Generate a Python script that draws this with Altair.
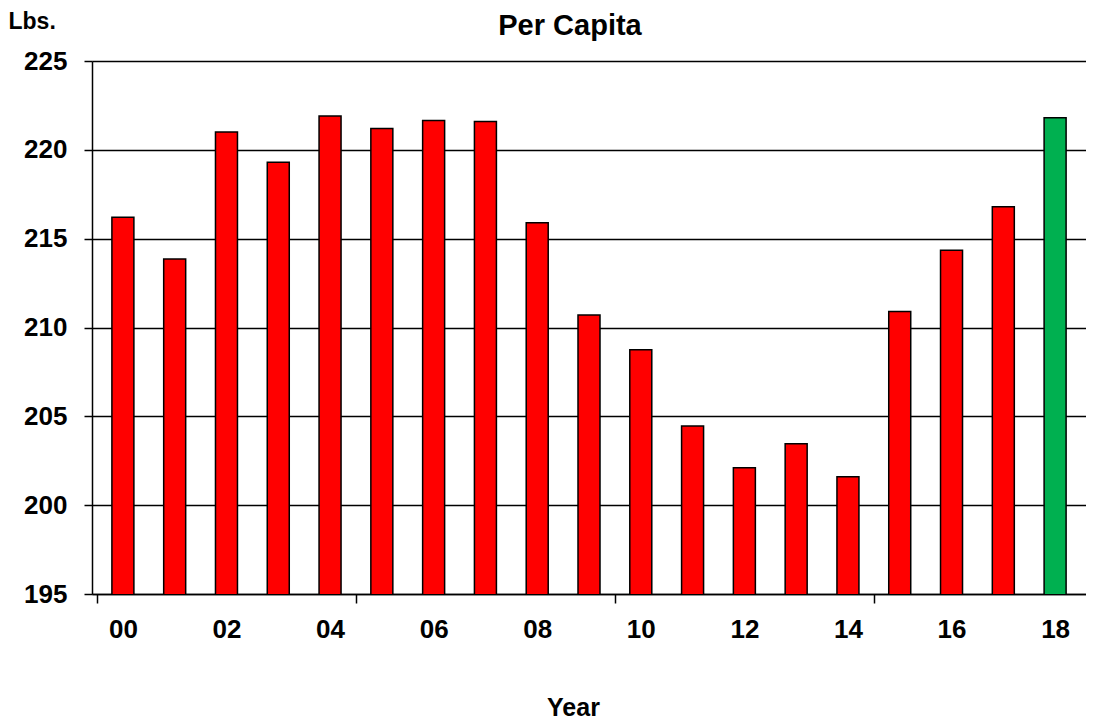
import json
import altair as alt
import pandas as pd

# ---- data ----
chart_title = "Per Capita"
years = ["00", "01", "02", "03", "04", "05", "06", "07", "08", "09",
         "10", "11", "12", "13", "14", "15", "16", "17", "18"]
lbs = [216.2, 213.85, 221.0, 219.3, 221.9, 221.2, 221.65, 221.6, 215.9, 210.7,
       208.75, 204.45, 202.1, 203.45, 201.6, 210.9, 214.35, 216.8, 221.8]
highlight_year = "18"
y_ticks = [195, 200, 205, 210, 215, 220, 225]
x_label_years = ["00", "02", "04", "06", "08", "10", "12", "14", "16", "18"]
x_tick_boundaries = [-0.5, 4.5, 9.5, 14.5]

df = pd.DataFrame({"year": years, "lbs": lbs, "idx": list(range(len(years)))})

FONT = "Liberation Sans"
label_idx = [years.index(y) for y in x_label_years]
label_expr = "datum.value % 1 === 0 ? " + json.dumps(years) + "[datum.value] : ''"

bars = alt.Chart(df).mark_bar(size=22, stroke="black", strokeWidth=1.5, clip=True).encode(
    x=alt.X(
        "idx:Q",
        scale=alt.Scale(domain=[-0.5, len(years) - 0.5], nice=False, zero=False),
        axis=alt.Axis(
            values=x_tick_boundaries + label_idx,
            labelExpr=label_expr,
            labelOverlap=False,
            labelFlush=False,
            labelFont=FONT,
            labelFontSize=26,
            labelFontWeight="bold",
            labelColor="black",
            labelPadding=13,
            labelBaseline="top",
            tickColor="black",
            tickWidth=1.5,
            tickSize=9,
            tickOpacity={"condition": {"test": "datum.value % 1 !== 0", "value": 1}, "value": 0},
            domainColor="black",
            domainWidth=1.5,
            grid=False,
            title="Year",
            titleFont=FONT,
            titleFontSize=25,
            titleFontWeight="bold",
            titleColor="black",
            titleX=481,
            titleY=121,
            titleAlign="center",
            titleBaseline="alphabetic",
        ),
    ),
    y=alt.Y(
        "lbs:Q",
        scale=alt.Scale(domain=[195, 225], nice=False, zero=False),
        axis=alt.Axis(
            values=y_ticks,
            labelFont=FONT,
            labelFontSize=26,
            labelFontWeight="bold",
            labelColor="black",
            labelPadding=17,
            tickColor="black",
            tickWidth=1.5,
            tickSize=8,
            domainColor="black",
            domainWidth=1.5,
            grid=True,
            gridColor="black",
            gridWidth=1.5,
            gridOpacity=1,
            title="Lbs.",
            titleFont=FONT,
            titleFontSize=23,
            titleFontWeight="bold",
            titleColor="black",
            titleAngle=0,
            titleX=-84,
            titleY=-33,
            titleAlign="left",
            titleBaseline="alphabetic",
        ),
    ),
    color=alt.condition(alt.datum.year == highlight_year, alt.value("#00B050"), alt.value("#FF0000")),
)

title_mark = alt.Chart(pd.DataFrame({"t": [chart_title]})).mark_text(
    font=FONT, fontSize=29, fontWeight="bold", color="black",
    align="center", baseline="alphabetic",
).encode(text="t:N", x=alt.value(478), y=alt.value(-26))

chart = alt.layer(bars, title_mark).properties(
    width=994,
    height=533,
    padding={"left": 84, "top": 53, "right": 0, "bottom": 127},
    autosize=alt.AutoSizeParams(type="none"),
).configure_view(stroke=None).configure(background="white")

chart.save("out.html", embed_options={"renderer": "svg", "actions": False})
